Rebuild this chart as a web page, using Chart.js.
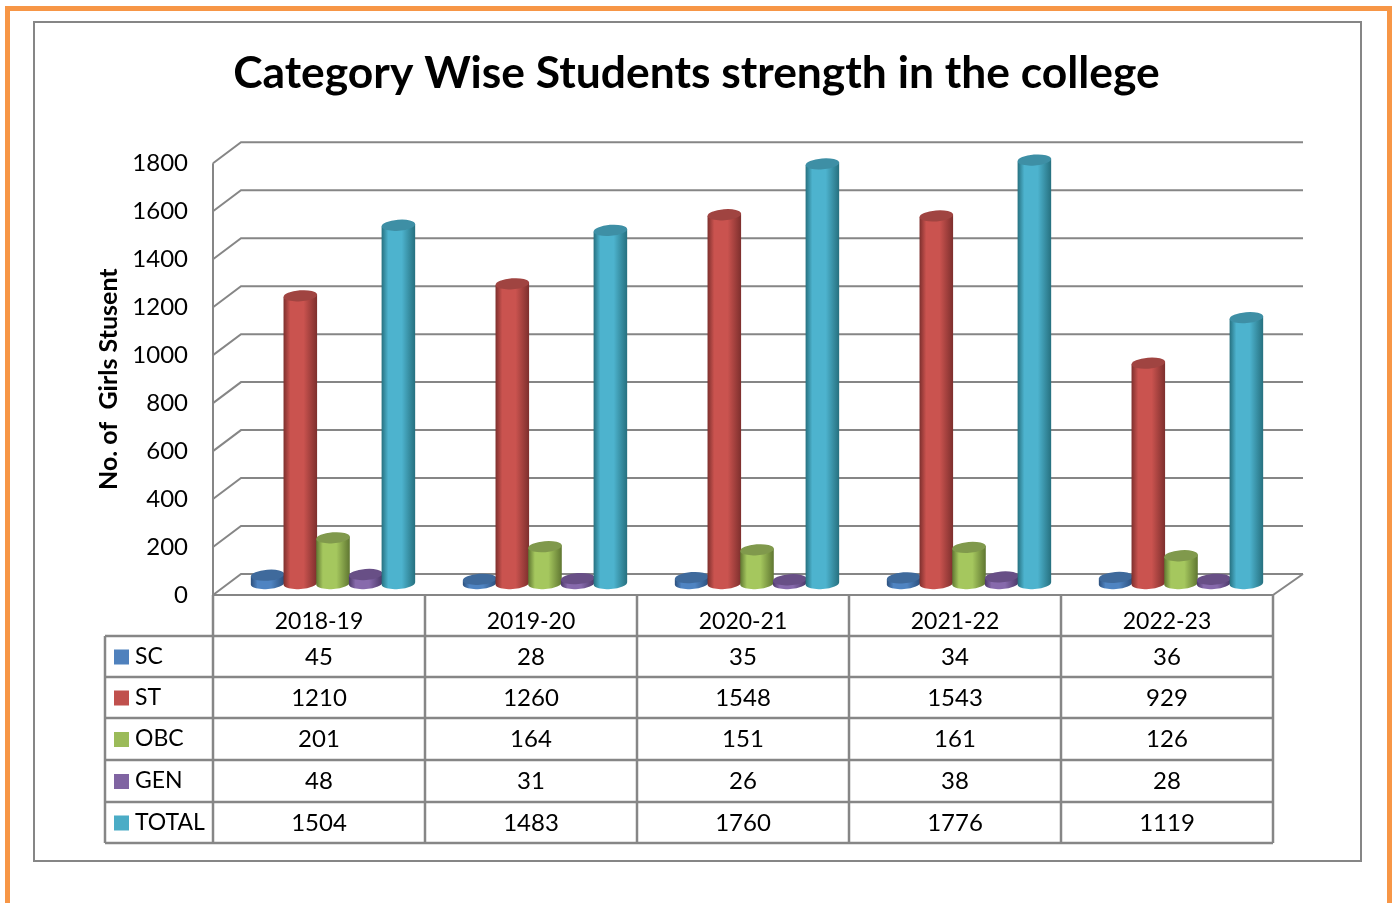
<!DOCTYPE html>
<html>

<head>
	<title>Category Wise Students strength</title>
	<script src="https://cdn.jsdelivr.net/npm/chart.js"></script>
	<style>
		body {
			margin: 0;
			background: #ffffff;
			overflow: hidden;
		}

		.page {
			position: relative;
			width: 1392px;
			height: 903px;
		}

		.orange-frame {
			position: absolute;
			left: 5px;
			top: 6px;
			right: 0;
			bottom: 0;
			border: 5px solid #f79646;
			border-bottom: none;
			box-sizing: border-box;
		}

		.grey-frame {
			position: absolute;
			left: 33px;
			top: 21px;
			width: 1329px;
			height: 841px;
			border: 2px solid #868686;
			box-sizing: border-box;
		}

		canvas {
			position: absolute;
			left: 0;
			top: 0;
		}
	</style>
</head>

<body>
	<div class="page">
		<div class="orange-frame"></div>
		<div class="grey-frame"></div>
		<canvas id="chart" width="1392" height="903"></canvas>
	</div>

	<script>
		var categories = ["2018-19", "2019-20", "2020-21", "2021-22", "2022-23"];
		var seriesNames = ["SC", "ST", "OBC", "GEN", "TOTAL"];
		var sc = [45, 28, 35, 34, 36];
		var st = [1210, 1260, 1548, 1543, 929];
		var obc = [201, 164, 151, 161, 126];
		var gen = [48, 31, 26, 38, 28];
		var total = [1504, 1483, 1760, 1776, 1119];
		var seriesValues = [sc, st, obc, gen, total];

		// key colour, dark edge, bright middle, top cap
		var keyColors = ["#4f81bd", "#c0504d", "#9bbb59", "#8064a2", "#4bacc6"];
		var edgeColors = ["#2c4f7c", "#7d2f2d", "#5f7631", "#4c3868", "#26707f"];
		var midColors = ["#4f84c2", "#ca534f", "#a5c75e", "#876aac", "#4db3ce"];
		var capColors = ["#3f6a9c", "#a04441", "#80994c", "#684f86", "#3e8fa5"];

		var axisColor = "#868686";
		var fontName = "Lato, sans-serif";
		var textSize = 23;
		var valueSize = 24;

		// back wall sits up and to the right of the front plane
		var depthX = 28;
		var depthY = -21;
		// cylinders stand in the middle of the floor
		var barShift = 14;
		var baseLift = 11.5;
		var topLift = 9;
		var capRy = 5.5;
		var capTilt = -0.08;

		var rowLines = [636, 677, 718, 760, 802, 843];
		var keyLeft = 105;

		var wallsPlugin = {
			id: "walls",
			beforeDatasetsDraw: function (chart) {
				var ctx = chart.ctx;
				var area = chart.chartArea;
				var y = chart.scales.y;
				ctx.save();
				ctx.strokeStyle = axisColor;
				ctx.lineWidth = 2;
				y.ticks.forEach(function (tick) {
					var py = y.getPixelForValue(tick.value);
					ctx.beginPath();
					ctx.moveTo(area.left, py);
					ctx.lineTo(area.left + depthX, py + depthY);
					ctx.lineTo(area.right + depthX + 2, py + depthY);
					ctx.stroke();
				});
				// front axis and the edge of the floor
				var zero = y.getPixelForValue(0);
				ctx.beginPath();
				ctx.moveTo(area.left, y.getPixelForValue(1800));
				ctx.lineTo(area.left, zero);
				ctx.lineTo(area.right, zero);
				ctx.lineTo(area.right + depthX + 2, zero + depthY);
				ctx.stroke();
				ctx.restore();
			},
		};

		var cylinderPlugin = {
			id: "cylinders",
			afterDatasetsDraw: function (chart) {
				var ctx = chart.ctx;
				var y = chart.scales.y;
				var zero = y.getPixelForValue(0);
				chart.data.datasets.forEach(function (dataset, d) {
					chart.getDatasetMeta(d).data.forEach(function (bar) {
						var props = bar.getProps(["x", "y", "width"], true);
						var cx = props.x + barShift;
						var top = props.y - topLift;
						var base = zero - baseLift;
						drawCylinder(ctx, cx, top, base, props.width * 1.03 / 2, d);
					});
				});
			},
		};

		function drawCylinder(ctx, cx, top, base, rx, d) {
			var sideDy = Math.sin(capTilt) * rx;
			var sideDx = Math.cos(capTilt) * rx;
			var body = ctx.createLinearGradient(cx - rx, 0, cx + rx, 0);
			body.addColorStop(0, edgeColors[d]);
			body.addColorStop(0.2, midColors[d]);
			body.addColorStop(0.6, midColors[d]);
			body.addColorStop(1, edgeColors[d]);
			ctx.save();
			ctx.fillStyle = body;
			ctx.beginPath();
			ctx.moveTo(cx - sideDx, top - sideDy);
			ctx.lineTo(cx - sideDx, base - sideDy);
			ctx.ellipse(cx, base, rx, capRy, capTilt, Math.PI, 0, true);
			ctx.lineTo(cx + sideDx, top + sideDy);
			ctx.closePath();
			ctx.fill();
			ctx.fillStyle = capColors[d];
			ctx.beginPath();
			ctx.ellipse(cx, top, rx, capRy, capTilt, 0, Math.PI * 2);
			ctx.fill();
			ctx.restore();
		}

		var tablePlugin = {
			id: "dataTable",
			afterDraw: function (chart) {
				var ctx = chart.ctx;
				var area = chart.chartArea;
				var x = chart.scales.x;
				var zero = chart.scales.y.getPixelForValue(0);
				var step = (area.right - area.left) / categories.length;
				ctx.save();
				ctx.strokeStyle = axisColor;
				ctx.lineWidth = 2.5;
				for (var c = 0; c <= categories.length; c++) {
					ctx.beginPath();
					ctx.moveTo(area.left + c * step, zero);
					ctx.lineTo(area.left + c * step, rowLines[rowLines.length - 1]);
					ctx.stroke();
				}
				rowLines.forEach(function (ly) {
					ctx.beginPath();
					ctx.moveTo(keyLeft, ly);
					ctx.lineTo(area.right, ly);
					ctx.stroke();
				});
				ctx.beginPath();
				ctx.moveTo(keyLeft, rowLines[0]);
				ctx.lineTo(keyLeft, rowLines[rowLines.length - 1]);
				ctx.stroke();

				ctx.fillStyle = "#000000";
				ctx.textBaseline = "middle";
				seriesNames.forEach(function (name, r) {
					var mid = (rowLines[r] + rowLines[r + 1]) / 2;
					ctx.fillStyle = keyColors[r];
					ctx.fillRect(114, mid - 7, 15, 15);
					ctx.fillStyle = "#000000";
					ctx.textAlign = "left";
					ctx.font = textSize + "px " + fontName;
					ctx.fillText(name, 135, mid);
					ctx.textAlign = "center";
					ctx.font = valueSize + "px " + fontName;
					seriesValues[r].forEach(function (value, c) {
						ctx.fillText(String(value), x.getPixelForValue(c), mid + 0.5);
					});
				});
				ctx.restore();
			},
		};

		var datasets = seriesNames.map(function (name, i) {
			return {
				label: name,
				data: seriesValues[i],
				backgroundColor: "transparent",
			};
		});

		new Chart(document.getElementById("chart").getContext("2d"), {
			type: "bar",
			data: { labels: categories, datasets: datasets },
			plugins: [wallsPlugin, cylinderPlugin, tablePlugin],
			options: {
				responsive: false,
				animation: false,
				// left padding keeps the title centred where the picture has it
				layout: { padding: { left: 120, right: 119, top: 47, bottom: 0 } },
				datasets: { bar: { categoryPercentage: 0.771, barPercentage: 1 } },
				plugins: {
					legend: { display: false },
					tooltip: { enabled: false },
					title: {
						display: true,
						text: "Category Wise Students strength in the college",
						color: "#000000",
						font: { family: fontName, size: 44.4, weight: "bold" },
						padding: { top: 0, bottom: 63 },
					},
				},
				scales: {
					x: {
						grid: { display: false },
						border: { display: false },
						ticks: { color: "#000000", font: { family: fontName, size: textSize }, padding: 5, maxRotation: 0 },
						afterFit: function (scale) {
							scale.height = 308;
						},
					},
					y: {
						min: 0,
						max: 1800,
						grid: { display: false },
						border: { display: false },
						ticks: {
							stepSize: 200,
							color: "#000000",
							font: { family: fontName, size: valueSize },
							padding: 17,
							callback: function (value) {
								return String(value);
							},
						},
						title: {
							display: true,
							text: "No. of  Girls Stusent",
							color: "#000000",
							font: { family: fontName, size: 25, weight: "bold" },
							padding: { top: -26, bottom: 0 },
						},
						afterFit: function (scale) {
							scale.width = 93;
						},
					},
				},
			},
		});
	</script>
</body>

</html>
